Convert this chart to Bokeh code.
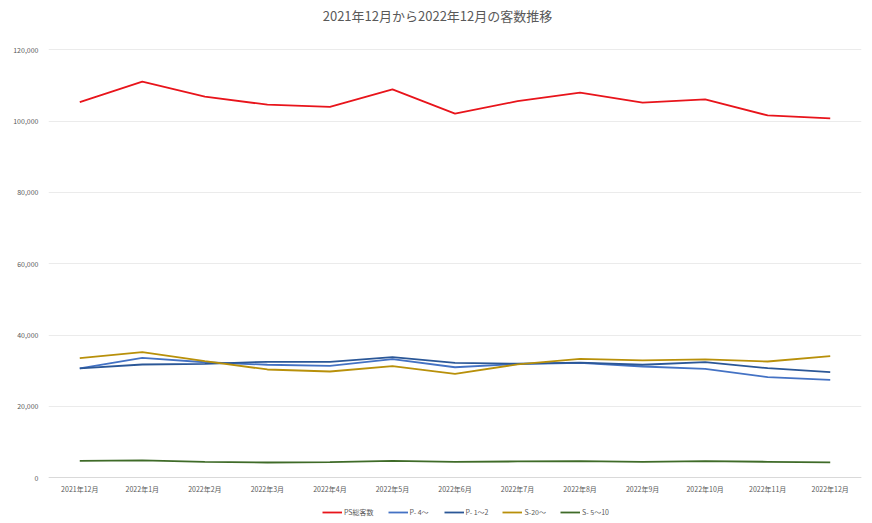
from bokeh.plotting import figure
from bokeh.models import Range1d, FixedTicker, NumeralTickFormatter, Legend, LegendItem, ColumnDataSource, Label
from bokeh.embed import file_html
from bokeh.resources import INLINE

months = ["2021年12月", "2022年1月", "2022年2月", "2022年3月", "2022年4月", "2022年5月",
          "2022年6月", "2022年7月", "2022年8月", "2022年9月", "2022年10月", "2022年11月", "2022年12月"]
ps_total = [105300, 111100, 106900, 104600, 104000, 108900, 102100, 105600, 108000, 105200, 106100, 101600, 100800]
p_4 = [30700, 33650, 32400, 31700, 31400, 33260, 31000, 31900, 32250, 31200, 30560, 28210, 27480]
p_1_2 = [30700, 31770, 31960, 32530, 32530, 33820, 32250, 32000, 32300, 31700, 32420, 30730, 29610]
s_20 = [33540, 35220, 32700, 30370, 29800, 31300, 29160, 31800, 33370, 32900, 33180, 32610, 34100]
s_5_10 = [4770, 4870, 4490, 4290, 4380, 4770, 4490, 4580, 4680, 4490, 4680, 4490, 4300]

chart_title = "2021年12月から2022年12月の客数推移"
series_names = ["PS総客数", "P- 4〜", "P- 1〜2", "S-20〜", "S- 5〜10"]
series_values = [ps_total, p_4, p_1_2, s_20, s_5_10]
series_colors = ["#E8141B", "#4472C4", "#2B5797", "#B8900A", "#3F6B28"]
y_ticks = [0, 20000, 40000, 60000, 80000, 100000, 120000]

FONT = "Noto Sans CJK JP"

p = figure(width=864, height=520,
           x_range=months, y_range=Range1d(-11970, 133820),
           output_backend="svg", toolbar_location=None,
           min_border_left=48, min_border_right=3, min_border_top=0, min_border_bottom=0)
p.outline_line_color = None
p.background_fill_color = "white"
p.border_fill_color = "white"

p.yaxis.ticker = FixedTicker(ticks=y_ticks)
p.yaxis.formatter = NumeralTickFormatter(format="0,0")
p.yaxis.axis_line_color = None
p.yaxis.major_tick_line_color = None
p.yaxis.minor_tick_line_color = None
p.yaxis.major_label_text_font = FONT
p.yaxis.major_label_text_font_size = "7px"
p.yaxis.major_label_text_color = "#595959"
p.yaxis.major_label_standoff = 4

p.xaxis.fixed_location = 0
p.xaxis.axis_line_color = "#D9D9D9"
p.xaxis.major_tick_line_color = None
p.xaxis.minor_tick_line_color = None
p.xaxis.major_label_text_font = FONT
p.xaxis.major_label_text_font_size = "7px"
p.xaxis.major_label_text_color = "#595959"
p.xaxis.major_label_standoff = 0

p.xgrid.grid_line_color = None
p.ygrid.grid_line_color = "#EBEBEB"
p.ygrid.grid_line_width = 1

title_label = Label(x=6.22, y=129600, x_units="data", y_units="data", text=chart_title,
                    text_align="center", text_baseline="middle", text_font=FONT,
                    text_font_size="13px", text_color="#595959")
p.add_layout(title_label)

items = []
for name, vals, col in zip(series_names, series_values, series_colors):
    src = ColumnDataSource(dict(x=months, y=vals))
    r = p.line("x", "y", source=src, line_color=col, line_width=1.8)
    items.append(LegendItem(label=name, renderers=[r]))

legend = Legend(items=items, orientation="horizontal", location=(274, 3),
                label_text_font=FONT, label_text_font_size="7px", label_text_color="#595959",
                glyph_width=20, glyph_height=8, spacing=14, label_standoff=2,
                border_line_color=None, background_fill_alpha=0, padding=0, margin=0)
p.add_layout(legend, "center")

open("out.html", "w").write(file_html(p, INLINE))
